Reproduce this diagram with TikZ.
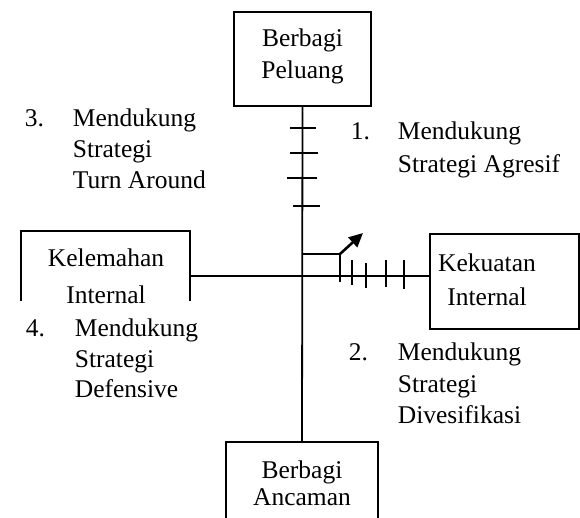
\documentclass[tikz,border=0pt]{standalone}
\usepackage{fontspec}
\setmainfont{Liberation Serif}
\usetikzlibrary{arrows.meta}
\begin{document}
\begin{tikzpicture}[x=1pt,y=-1pt,line width=1.8pt,
  txt/.style={font=\fontsize{25.5}{31}\selectfont,inner sep=0pt},
  lbl/.style={txt,anchor=base west},
  ctr/.style={txt,anchor=base},
  boxarea/.style={inner sep=0pt,outer sep=0pt},
  tickmark/.style={line width=1.8pt}]
\useasboundingbox (0,0) rectangle (580,518);
% boxes
\node[boxarea,draw,minimum width=137pt,minimum height=94pt] (peluang) at (302.5,59) {};
\node[boxarea,draw,minimum width=149pt,minimum height=95pt] (kekuatan) at (504.5,281.5) {};
\node[boxarea,minimum width=169pt,minimum height=70pt] (kelemahan) at (105.5,266) {};
\node[boxarea,minimum width=152pt,minimum height=80pt] (ancaman) at (302,482) {};
\draw (kelemahan.south west) -- (kelemahan.north west) -- (kelemahan.north east) -- (kelemahan.south east);
\draw (ancaman.south west) -- (ancaman.north west) -- (ancaman.north east) -- (ancaman.south east);
% box texts
\node[ctr] (p1) at (302.5,47) {Berbagi};
\node[ctr] (p2) at (302.5,79) {Peluang};
\node[ctr] (k1) at (106,266) {Kelemahan};
\node[ctr] (k2) at (106,303) {Internal};
\node[ctr] (s1) at (487,272) {Kekuatan};
\node[ctr] (s2) at (487,305) {Internal};
\node[ctr] (a1) at (302,478) {Berbagi};
\node[ctr] (a2) at (302,505) {Ancaman};
% axes
\coordinate (h) at (0,276);
\draw (peluang.south) -- (ancaman.north);
\draw (kelemahan.north east |- h) -- (kekuatan.west |- h);
% ticks on vertical axis
\draw[tickmark] (290,128) -- (316,128);
\draw[tickmark] (290,153) -- (318,153);
\draw[tickmark] (287,178) -- (317,178);
\draw[tickmark] (293,206) -- (320,206);
% ticks on horizontal axis
\draw[tickmark] (352,260) -- (352,285);
\draw[tickmark] (366,263) -- (366,288);
\draw[tickmark] (386,260) -- (386,287);
\draw[tickmark] (404,260) -- (404,289);
% square and arrow
\coordinate (sq) at (340,254);
\draw (peluang.south |- sq) -- (sq);
\draw[line width=2.4pt] (sq) -- (340,282);
\coordinate (tip) at (363,233);
\draw[line width=2.6pt,-{Triangle[length=14pt,width=13pt]}] (sq) -- (tip);
% labels
\node[lbl] (n3) at (24,127) {3.};
\node[lbl] (n3a) at (72,127) {Mendukung};
\node[lbl] (n3b) at (72,158) {Strategi};
\node[lbl] (n3c) at (72,189) {Turn Around};
\node[lbl] (n1) at (350,140) {1.};
\node[lbl] (n1a) at (397,140) {Mendukung};
\node[lbl] (n1b) at (397,173) {Strategi Agresif};
\node[lbl] (n4) at (25,336) {4.};
\node[lbl] (n4a) at (74,336) {Mendukung};
\node[lbl] (n4b) at (74,367) {Strategi};
\node[lbl] (n4c) at (74,397) {Defensive};
\node[lbl] (n2) at (348,360) {2.};
\node[lbl] (n2a) at (397,360) {Mendukung};
\node[lbl] (n2b) at (397,392) {Strategi};
\node[lbl] (n2c) at (397,423) {Divesifikasi};
\end{tikzpicture}
\end{document}
